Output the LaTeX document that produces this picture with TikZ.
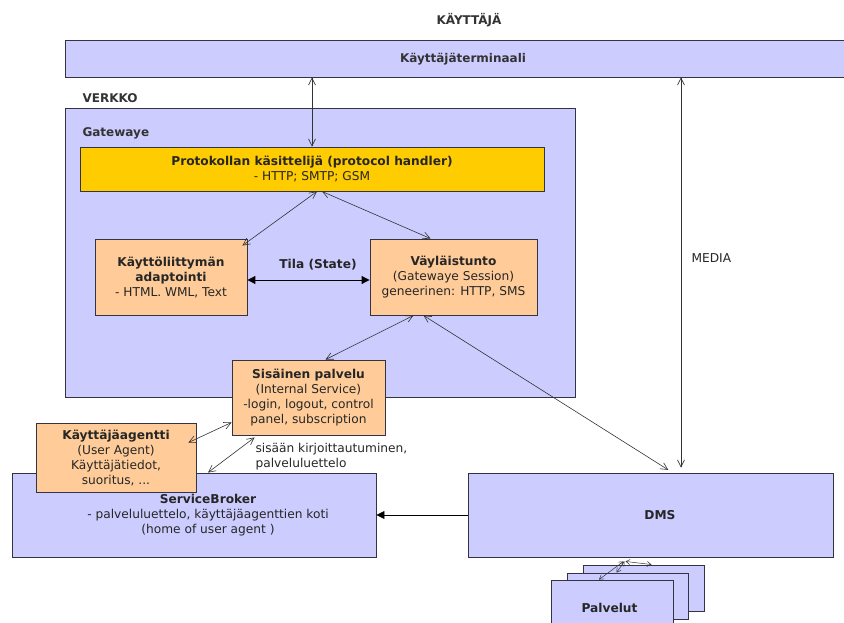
\documentclass[tikz,border=0pt]{standalone}
\usepackage{fontspec}
\setmainfont{DejaVu Sans}
\usetikzlibrary{arrows.meta}
\definecolor{laventeli}{HTML}{CCCCFF}
\definecolor{kulta}{HTML}{FFCC00}
\definecolor{persikka}{HTML}{FFCC99}
\definecolor{reuna}{HTML}{333344}
\definecolor{viiva}{HTML}{333333}
\tikzset{
  laatikko/.style={draw=reuna, fill=laventeli, line width=0.9pt, inner sep=0pt},
  kultalaatikko/.style={laatikko, fill=kulta},
  persikkalaatikko/.style={laatikko, fill=persikka, align=center},
  teksti/.style={font=\fontsize{12.2}{15}\selectfont, align=center, text=black!85},
  otsikko/.style={font=\bfseries\fontsize{12}{13}\selectfont, text=black!80},
  kaksi/.style={draw=viiva, line width=0.6pt, {Straight Barb[length=7pt,width=7pt]}-{Straight Barb[length=7pt,width=7pt]}},
  pieni/.style={draw=viiva, line width=0.5pt, {Straight Barb[length=4pt,width=5pt]}-{Straight Barb[length=4pt,width=5pt]}},
  tilanuoli/.style={draw=black, line width=1pt, {Triangle[length=8pt,width=8pt]}-{Triangle[length=8pt,width=8pt]}},
  yksi/.style={draw=black, line width=0.8pt, -{Triangle[length=8pt,width=8pt]}}
}

\begin{document}
\begin{tikzpicture}[x=1pt,y=-1pt]
\useasboundingbox (0,0) rectangle (844,623);

\node[otsikko] (kayttaja) at (469,20) {KÄYTTÄJÄ};
\node[laatikko, minimum width=779pt, minimum height=37pt] (term) at (454.5,58.5) {};
\node[otsikko] (termteksti) at (463,59) {Käyttäjäterminaali};

\node[otsikko, anchor=west] (verkko) at (79,98) {VERKKO};
\node[laatikko, minimum width=510pt, minimum height=289pt] (gw) at (320,252.5) {};
\node[otsikko, anchor=west] (gwteksti) at (79,133) {Gatewaye};

\node[kultalaatikko, minimum width=464pt, minimum height=44pt, teksti] (prot) at (312,169)
  {\textbf{Protokollan käsittelijä (protocol handler)}\\- HTTP; SMTP; GSM};
\node[persikkalaatikko, minimum width=152pt, minimum height=76pt, teksti] (kl) at (171,277)
  {\textbf{Käyttöliittymän}\\\textbf{adaptointi}\\- HTML. WML, Text};
\node[persikkalaatikko, minimum width=167pt, minimum height=76pt, teksti] (vt) at (453.5,277)
  {\textbf{Väyläistunto}\\(Gatewaye Session)\\geneerinen: HTTP, SMS};
\node[teksti] (tila) at (318,265) {\textbf{Tila (State)}};
\node[persikkalaatikko, minimum width=153pt, minimum height=75pt, teksti] (sp) at (308.5,397.5)
  {\textbf{Sisäinen palvelu}\\(Internal Service)\\-login, logout, control\\panel, subscription};

\node[laatikko, minimum width=364pt, minimum height=84pt] (sb) at (194,515) {};
\node[teksti] (sbteksti) at (208,515)
  {\textbf{ServiceBroker}\\- palveluluettelo, käyttäjäagenttien koti\\(home of user agent )};
\node[persikkalaatikko, minimum width=160pt, minimum height=69pt, teksti] (ka) at (116,457.5)
  {\textbf{Käyttäjäagentti}\\(User Agent)\\Käyttäjätiedot,\\suoritus, ...};

\node[laatikko, minimum width=365pt, minimum height=84pt] (dms) at (650.5,515) {};
\node[teksti] (dmsteksti) at (660,515) {\textbf{DMS}};

\node[laatikko, minimum width=121pt, minimum height=46pt] (p3) at (643.5,588) {};
\node[laatikko, minimum width=121pt, minimum height=46pt] (p2) at (627.5,596) {};
\node[laatikko, minimum width=122pt, minimum height=46pt] (p1) at (612,603) {};
\node[teksti] (pteksti) at (609.5,608) {\textbf{Palvelut}};

\node[teksti, anchor=west] (mediateksti) at (688,258) {MEDIA};
\node[teksti, anchor=north west, align=left] (sisaan) at (252,440)
  {sisään kirjoittautuminen,\\palveluluettelo};

\coordinate (mediax) at (681,0);
\draw[kaksi] (prot.north |- term.south) -- (prot.north);
\draw[kaksi, shorten >=5pt] (mediax |- term.south) -- (mediax |- dms.north);
\draw[kaksi] ([xshift=5pt]prot.south) -- ([xshift=-5pt,yshift=-7pt]kl.north east);
\draw[kaksi] ([xshift=10pt]prot.south) -- ([xshift=-23pt]vt.north);
\draw[tilanuoli] ([yshift=-3pt]kl.east) -- ([yshift=-3pt]vt.west);
\draw[kaksi] ([xshift=-40pt]vt.south) -- ([xshift=17pt]sp.north);
\draw[kaksi, shorten >=5pt] ([xshift=-30pt]vt.south) -- ([xshift=22pt]dms.north);
\draw[kaksi] ([yshift=13pt]sp.south west) -- ([xshift=-8pt,yshift=-20pt]ka.north east);
\draw[kaksi] ([xshift=23pt,yshift=-2pt]sp.south west) -- ([xshift=14pt]sb.north);
\draw[yksi] (dms.west) -- (sb.east);
\draw[pieni] ([xshift=-25pt,yshift=-4pt]dms.south) -- ([xshift=8pt]p3.north);
\draw[pieni] ([xshift=-26pt,yshift=-4pt]dms.south) -- ([xshift=-11pt]p2.north);
\draw[pieni] ([xshift=-27pt,yshift=-4pt]dms.south) -- ([xshift=-13pt]p1.north);
\end{tikzpicture}
\end{document}
